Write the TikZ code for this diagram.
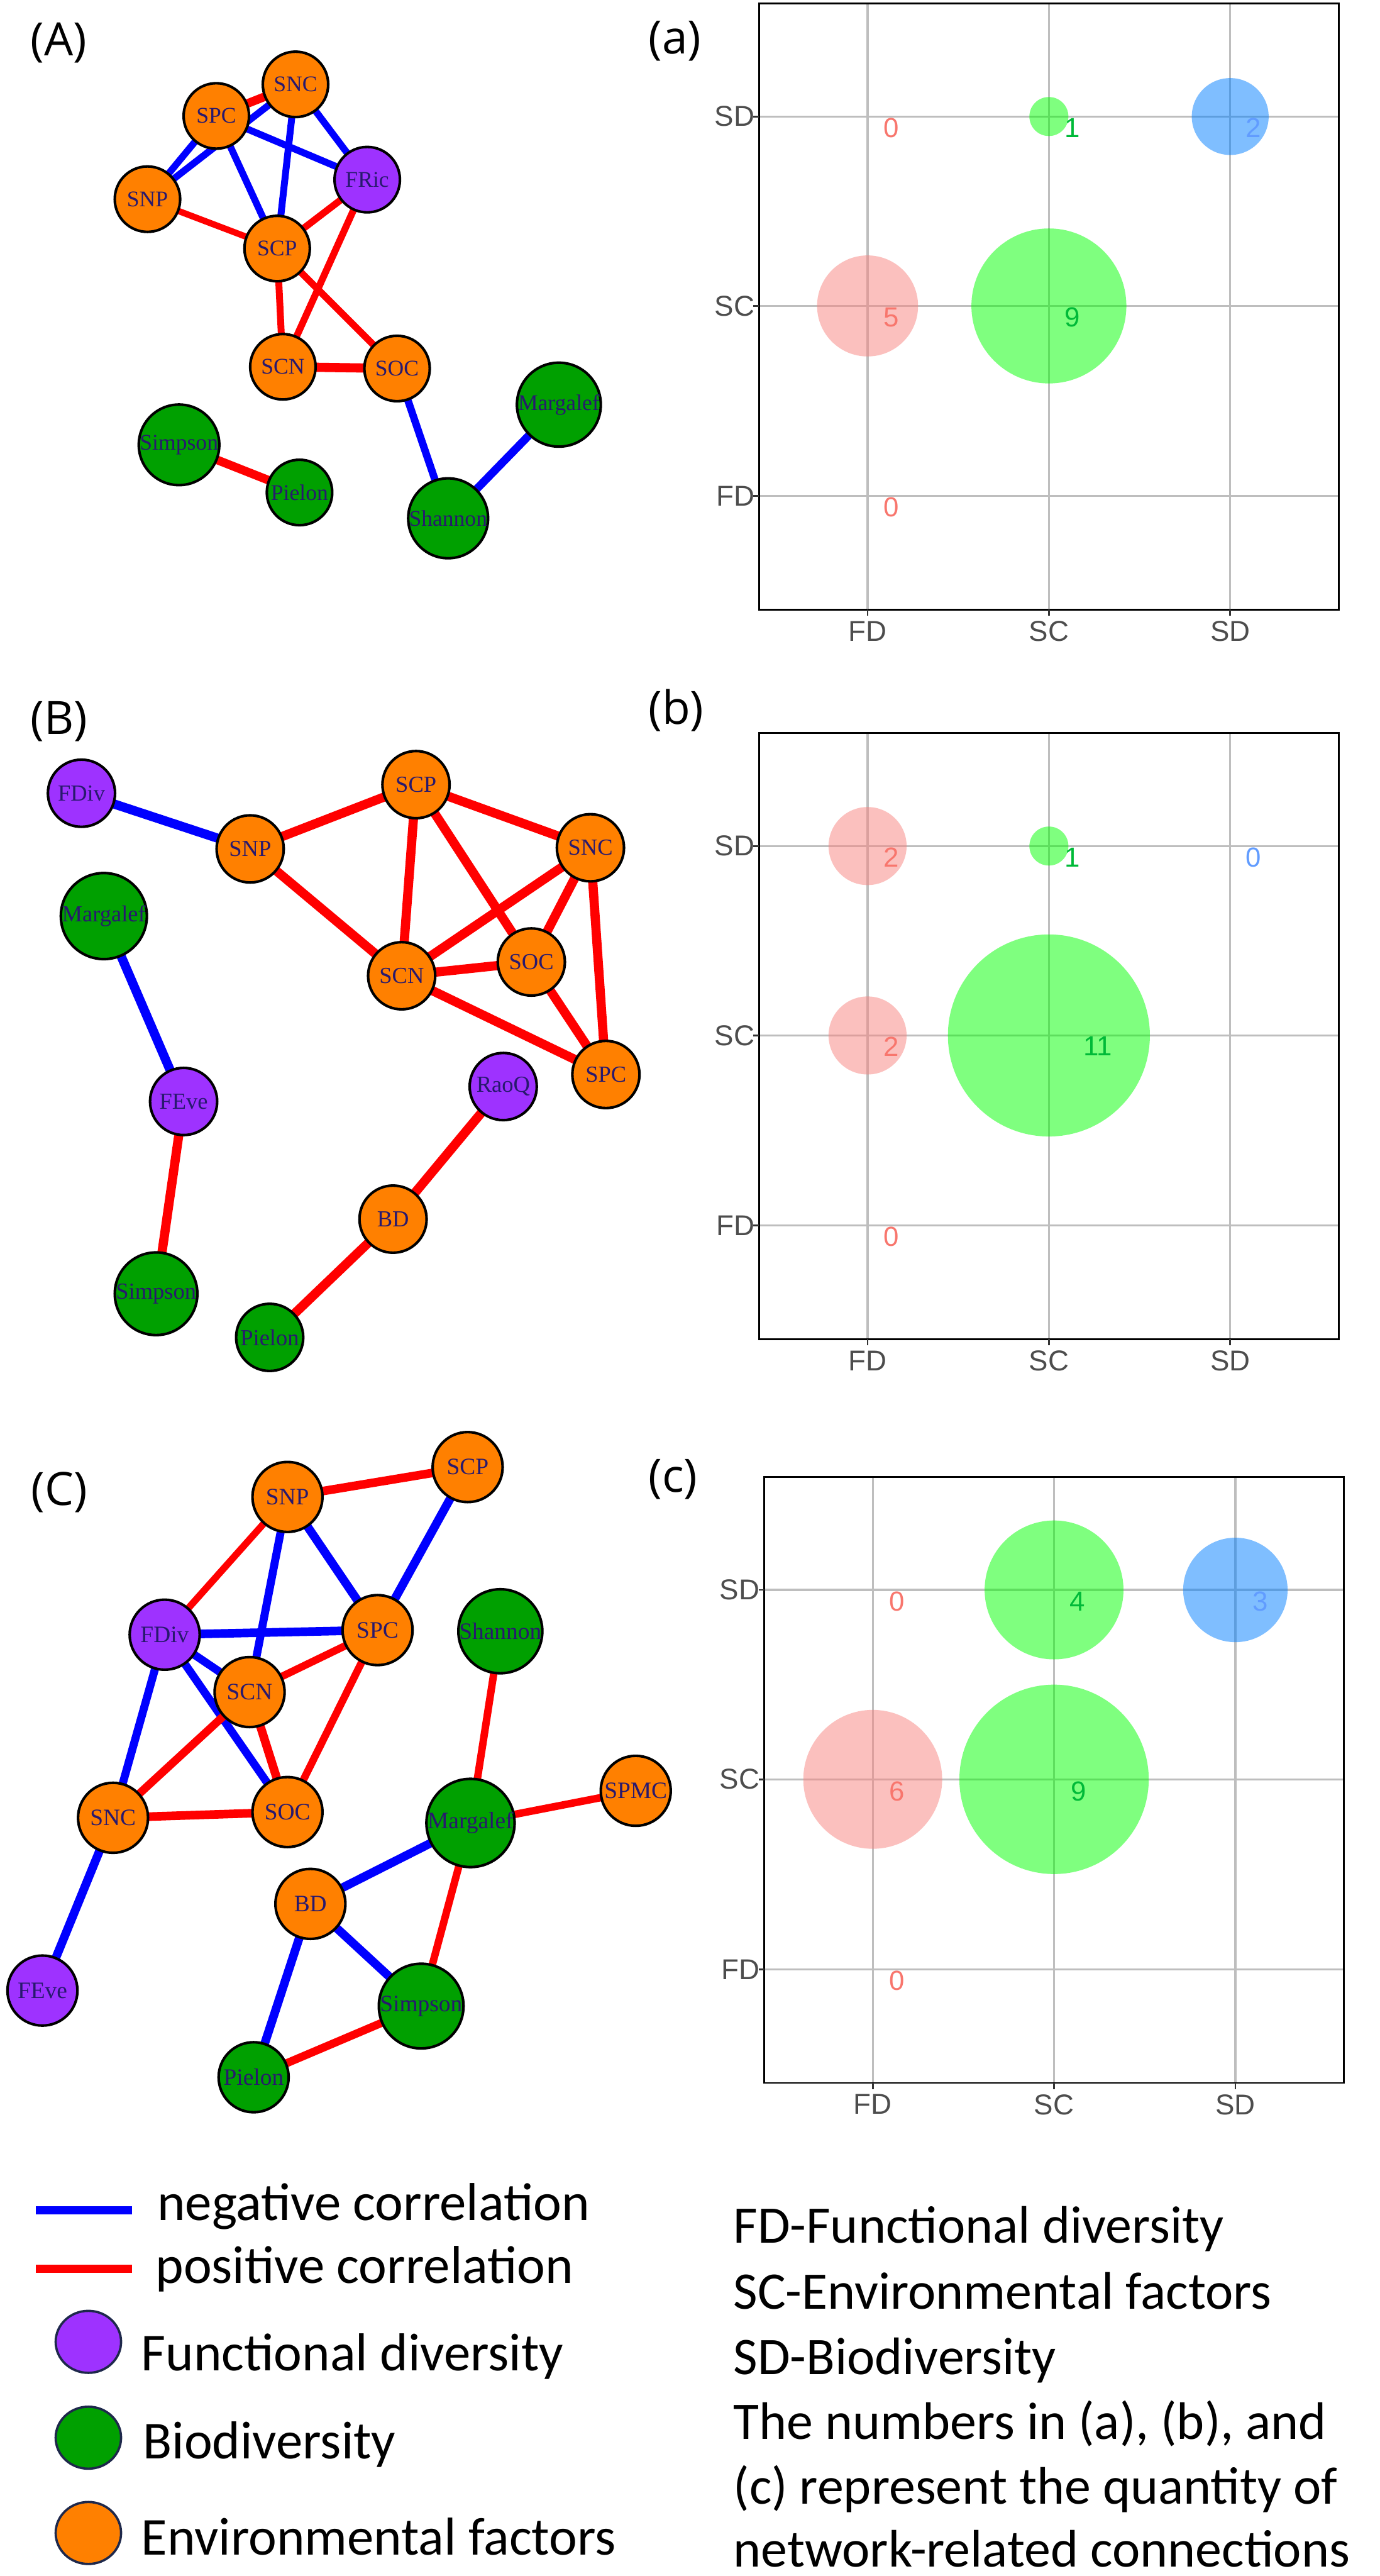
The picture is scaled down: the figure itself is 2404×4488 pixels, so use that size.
\documentclass[tikz,border=0pt]{standalone}
\usepackage{fontspec}
\setmainfont{Liberation Serif}
\newfontfamily\legfont{Carlito}
\newfontfamily\axfont{Liberation Sans}
\newfontfamily\panfont{Open Sans}
\usetikzlibrary{shapes.geometric}
\definecolor{ornfill}{RGB}{255,128,0}
\definecolor{purfill}{RGB}{158,50,255}
\definecolor{grnfill}{RGB}{0,160,0}
\definecolor{ntext}{RGB}{40,25,110}
\definecolor{negc}{RGB}{0,0,255}
\definecolor{posc}{RGB}{255,0,0}
\definecolor{gridc}{RGB}{190,190,190}
\definecolor{axc}{RGB}{77,77,77}
\definecolor{tickc}{RGB}{51,51,51}
\definecolor{fdc}{RGB}{248,118,109}
\definecolor{scc}{RGB}{0,186,56}
\definecolor{sdc}{RGB}{97,156,255}
\definecolor{pinkbase}{RGB}{248,131,127}
\definecolor{greenbase}{RGB}{0,255,0}
\definecolor{bluebase}{RGB}{0,127,255}
\definecolor{legedge}{RGB}{30,40,75}
\pgfdeclarelayer{back}
\pgfdeclarelayer{bg}
\pgfsetlayers{back,bg,main}
\tikzset{
  nd/.style={circle, draw=black, line width=4.5pt, inner sep=0pt, text=ntext},
  ndA/.style={nd, minimum size=114pt, font=\fontsize{39}{40}\selectfont},
  ndB/.style={nd, minimum size=117pt, font=\fontsize{40}{42}\selectfont},
  ndC/.style={nd, minimum size=122pt, font=\fontsize{41}{42}\selectfont},
  orn/.style={fill=ornfill}, pur/.style={fill=purfill}, grn/.style={fill=grnfill},
  neg/.style={draw=negc, line width=#1pt}, neg/.default=12,
  pos/.style={draw=posc, line width=#1pt}, pos/.default=12,
  gridline/.style={draw=gridc, line width=3.5pt},
  bub/.style={fill opacity=0.5},
  axlab/.style={inner sep=0pt, text=axc, font=\axfont\fontsize{50}{55}\selectfont},
  num/.style={inner sep=0pt, font=\axfont\fontsize{48}{52}\selectfont},
  legtext/.style={inner sep=0pt, anchor=base west, font=\legfont\fontsize{93}{113}\selectfont},
  rtext/.style={inner sep=0pt, anchor=base west, font=\legfont\fontsize{92}{113}\selectfont},
  panlab/.style={inner sep=0pt, anchor=base west, font=\panfont\fontsize{80}{84}\selectfont},
  legc/.style={ellipse, draw=legedge, line width=4pt, minimum width=114pt, minimum height=108pt, inner sep=0pt},
  legline/.style={line width=14pt}
}
\newcommand{\chartgrid}{%
  \foreach \gx in {189,505,821} {\draw[gridline] (\gx,0) -- (\gx,1056);}
  \foreach \gy in {197,527,858} {\draw[gridline] (0,\gy) -- (1010,\gy);}
}
\newcommand{\chartframe}[1]{%
  \draw[black, line width=3pt] (0,0) rectangle (1010,1056);
  \foreach \gx in {189,505,821} {\draw[tickc, line width=3pt] (\gx,1056) -- (\gx,1067);}
  \foreach \gy in {197,527,858} {\draw[tickc, line width=3pt] (-10,\gy) -- (0,\gy);}
  \node[axlab, anchor=east] (#1ySD) at (-8,197) {SD};
  \node[axlab, anchor=east] (#1ySC) at (-8,527) {SC};
  \node[axlab, anchor=east] (#1yFD) at (-8,858) {FD};
  \node[axlab, anchor=north] (#1xFD) at (189,1076) {FD};
  \node[axlab, anchor=north] (#1xSC) at (505,1076) {SC};
  \node[axlab, anchor=north] (#1xSD) at (821,1076) {SD};
}
\begin{document}
\begin{tikzpicture}[x=1pt,y=-1pt]
\begin{pgfonlayer}{back}
\fill[white] (0,0) rectangle (2404,4488);
\end{pgfonlayer}
\useasboundingbox (0,0) rectangle (2404,4488);

% ---------------- panel labels
\node[panlab] (pA) at (53,97) {(A)};
\node[panlab] (pa) at (1130,94) {(a)};
\node[panlab] (pB) at (53,1279) {(B)};
\node[panlab] (pb) at (1130,1262) {(b)};
\node[panlab] (pC) at (54,2623) {(C)};
\node[panlab] (pc) at (1130,2600) {(c)};

% ---------------- network A
\node[ndA, orn] (aSNC) at (515,147) {SNC};
\node[ndA, orn] (aSPC) at (377,202) {SPC};
\node[ndA, orn] (aSNP) at (257,347) {SNP};
\node[ndA, pur] (aFRic) at (640,313) {FRic};
\node[ndA, orn] (aSCP) at (483,433) {SCP};
\node[ndA, orn] (aSCN) at (493,639) {SCN};
\node[ndA, orn] (aSOC) at (692,642) {SOC};
\node[ndA, grn] (aMar) at (974,705) {Margalef};
\node[ndA, grn] (aSim) at (312,775) {Simpson};
\node[ndA, grn] (aPie) at (522,858) {Pielon};
\node[ndA, grn] (aSha) at (781,903) {Shannon};
\begin{pgfonlayer}{bg}
\draw[pos=15] (aSPC.center) -- (aSNC.center);
\draw[neg] (aSNP.center) -- (aSPC.center);
\draw[neg] (aSNP.center) -- (aSNC.center);
\draw[neg] (aSPC.center) -- (aFRic.center);
\draw[neg] (aSPC.center) -- (aSCP.center);
\draw[neg] (aSNC.center) -- (aSCP.center);
\draw[neg] (aSNC.center) -- (aFRic.center);
\draw[pos=11] (aSNP.center) -- (aSCP.center);
\draw[pos] (aSCP.center) -- (aFRic.center);
\draw[pos] (aFRic.center) -- (aSCN.center);
\draw[pos] (aSCP.center) -- (aSCN.center);
\draw[pos] (aSCP.center) -- (aSOC.center);
\draw[pos=16] (aSCN.center) -- (aSOC.center);
\draw[neg=13] (aSOC.center) -- (aSha.center);
\draw[neg=14] (aSha.center) -- (aMar.center);
\draw[pos=15] (aSim.center) -- (aPie.center);
\end{pgfonlayer}

% ---------------- network B
\node[ndB, pur] (bFDiv) at (142,1382) {FDiv};
\node[ndB, orn] (bSNP) at (436,1479) {SNP};
\node[ndB, orn] (bSCP) at (725,1367) {SCP};
\node[ndB, orn] (bSNC) at (1029,1477) {SNC};
\node[ndB, orn] (bSCN) at (700,1700) {SCN};
\node[ndB, orn] (bSOC) at (926,1676) {SOC};
\node[ndB, orn] (bSPC) at (1056,1872) {SPC};
\node[ndB, grn] (bMar) at (181,1596) {Margalef};
\node[ndB, pur] (bFEve) at (320,1919) {FEve};
\node[ndB, pur] (bRaoQ) at (877,1893) {RaoQ};
\node[ndB, orn] (bBD) at (685,2124) {BD};
\node[ndB, grn] (bSim) at (272,2254) {Simpson};
\node[ndB, grn] (bPie) at (470,2330) {Pielon};
\begin{pgfonlayer}{bg}
\draw[neg=16] (bFDiv.center) -- (bSNP.center);
\draw[neg=16] (bMar.center) -- (bFEve.center);
\draw[pos=16] (bSNP.center) -- (bSCP.center);
\draw[pos=16] (bSNP.center) -- (bSCN.center);
\draw[pos=16] (bSCP.center) -- (bSNC.center);
\draw[pos=16] (bSCP.center) -- (bSCN.center);
\draw[pos=16] (bSCP.center) -- (bSOC.center);
\draw[pos=16] (bSNC.center) -- (bSCN.center);
\draw[pos=16] (bSNC.center) -- (bSOC.center);
\draw[pos=16] (bSNC.center) -- (bSPC.center);
\draw[pos=16] (bSCN.center) -- (bSOC.center);
\draw[pos=16] (bSCN.center) -- (bSPC.center);
\draw[pos=16] (bSOC.center) -- (bSPC.center);
\draw[pos=16] (bFEve.center) -- (bSim.center);
\draw[pos=16] (bRaoQ.center) -- (bBD.center);
\draw[pos=16] (bBD.center) -- (bPie.center);
\end{pgfonlayer}

% ---------------- network C
\node[ndC, orn] (cSNP) at (501,2608) {SNP};
\node[ndC, orn] (cSCP) at (815,2556) {SCP};
\node[ndC, pur] (cFDiv) at (287,2848) {FDiv};
\node[ndC, orn] (cSPC) at (658,2840) {SPC};
\node[ndC, grn] (cSha) at (872,2842) {Shannon};
\node[ndC, orn] (cSCN) at (435,2948) {SCN};
\node[ndC, orn] (cSNC) at (197,3167) {SNC};
\node[ndC, orn] (cSOC) at (501,3157) {SOC};
\node[ndC, orn] (cSPMC) at (1108,3120) {SPMC};
\node[ndC, grn] (cMar) at (820,3176) {Margalef};
\node[ndC, orn] (cBD) at (541,3317) {BD};
\node[ndC, pur] (cFEve) at (74,3468) {FEve};
\node[ndC, grn] (cSim) at (734,3495) {Simpson};
\node[ndC, grn] (cPie) at (442,3619) {Pielon};
\begin{pgfonlayer}{bg}
\draw[pos=15] (cSNP.center) -- (cSCP.center);
\draw[pos=12] (cSNP.center) -- (cFDiv.center);
\draw[neg=14] (cSNP.center) -- (cSCN.center);
\draw[neg=15] (cSNP.center) -- (cSPC.center);
\draw[neg=15] (cSCP.center) -- (cSPC.center);
\draw[neg=15] (cFDiv.center) -- (cSPC.center);
\draw[neg=14] (cFDiv.center) -- (cSCN.center);
\draw[neg=14] (cFDiv.center) -- (cSOC.center);
\draw[neg=14] (cFDiv.center) -- (cSNC.center);
\draw[pos=13] (cSPC.center) -- (cSCN.center);
\draw[pos=13] (cSPC.center) -- (cSOC.center);
\draw[pos=14] (cSCN.center) -- (cSNC.center);
\draw[pos=15] (cSCN.center) -- (cSOC.center);
\draw[pos=15] (cSNC.center) -- (cSOC.center);
\draw[neg=15] (cSNC.center) -- (cFEve.center);
\draw[pos=13] (cSha.center) -- (cMar.center);
\draw[pos=13] (cMar.center) -- (cSPMC.center);
\draw[neg=15] (cMar.center) -- (cBD.center);
\draw[pos=13] (cMar.center) -- (cSim.center);
\draw[neg=15] (cBD.center) -- (cSim.center);
\draw[neg=15] (cBD.center) -- (cPie.center);
\draw[pos=14] (cSim.center) -- (cPie.center);
\end{pgfonlayer}

% ---------------- chart (a)
\begin{scope}[shift={(1323,6)}]
\chartgrid
\fill[bub, greenbase] (505,197) circle[radius=34];
\fill[bub, bluebase] (821,197) circle[radius=67];
\fill[bub, pinkbase] (189,527) circle[radius=88];
\fill[bub, greenbase] (505,527) circle[radius=135];
\node[num, text=fdc] (an1) at (230,217) {0};
\node[num, text=scc] (an2) at (546,217) {1};
\node[num, text=sdc] (an3) at (862,217) {2};
\node[num, text=fdc] (an4) at (230,547) {5};
\node[num, text=scc] (an5) at (546,547) {9};
\node[num, text=fdc] (an6) at (230,878) {0};
\chartframe{a}
\end{scope}

% ---------------- chart (b)
\begin{scope}[shift={(1323,1277)}]
\chartgrid
\fill[bub, pinkbase] (189,197) circle[radius=68];
\fill[bub, greenbase] (505,197) circle[radius=34];
\fill[bub, pinkbase] (189,527) circle[radius=68];
\fill[bub, greenbase] (505,527) circle[radius=176];
\node[num, text=fdc] (bn1) at (230,217) {2};
\node[num, text=scc] (bn2) at (546,217) {1};
\node[num, text=sdc] (bn3) at (862,217) {0};
\node[num, text=fdc] (bn4) at (230,547) {2};
\node[num, text=scc] (bn5) at (590,546) {11};
\node[num, text=fdc] (bn6) at (230,878) {0};
\chartframe{b}
\end{scope}

% ---------------- chart (c)
\begin{scope}[shift={(1332,2573)}]
\chartgrid
\fill[bub, greenbase] (505,197) circle[radius=121];
\fill[bub, bluebase] (821,197) circle[radius=91];
\fill[bub, pinkbase] (189,527) circle[radius=121];
\fill[bub, greenbase] (505,527) circle[radius=165];
\node[num, text=fdc] (cn1) at (231,217) {0};
\node[num, text=scc] (cn2) at (546,217) {4};
\node[num, text=sdc] (cn3) at (864,217) {3};
\node[num, text=fdc] (cn4) at (231,548) {6};
\node[num, text=scc] (cn5) at (548,548) {9};
\node[num, text=fdc] (cn6) at (231,878) {0};
\chartframe{c}
\end{scope}

% ---------------- legend left
\coordinate (lnA) at (63,3851);
\coordinate (lnB) at (230,3851);
\coordinate (lpA) at (63,3953);
\coordinate (lpB) at (230,3953);
\draw[legline, negc] (lnA) -- (lnB);
\draw[legline, posc] (lpA) -- (lpB);
\node[legtext] (lt1) at (274,3868) {negative correlation};
\node[legtext] (lt2) at (271,3978) {positive correlation};
\node[legc, fill=purfill] (lc1) at (154,4080) {};
\node[legc, fill=grnfill] (lc2) at (154,4247) {};
\node[legc, fill=ornfill] (lc3) at (154,4413) {};
\node[legtext] (lt3) at (246,4130) {Functional diversity};
\node[legtext] (lt4) at (249,4284) {Biodiversity};
\node[legtext] (lt5) at (246,4451) {Environmental factors};

% ---------------- legend right
\node[rtext] (rt1) at (1278,3908) {FD-Functional diversity};
\node[rtext] (rt2) at (1278,4023) {SC-Environmental factors};
\node[rtext] (rt3) at (1278,4137) {SD-Biodiversity};
\node[rtext] (rt4) at (1278,4250) {The numbers in (a), (b), and};
\node[rtext] (rt5) at (1278,4363) {(c) represent the quantity of};
\node[rtext] (rt6) at (1278,4472) {network-related connections};
\end{tikzpicture}
\end{document}
